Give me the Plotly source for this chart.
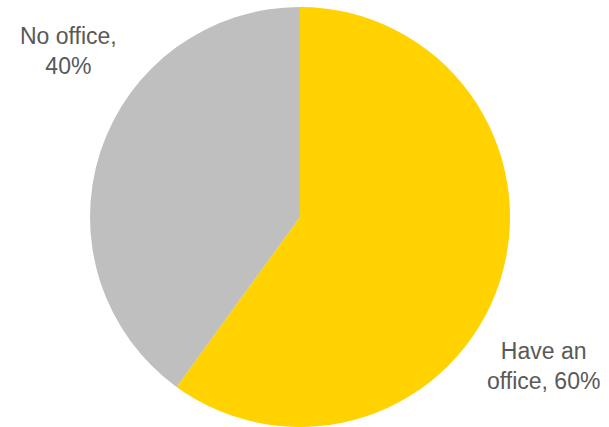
import plotly.graph_objects as go

labels = ["Have an office", "No office"]
values = [60, 40]
colors = ["#FFD200", "#BFBFBF"]
label_text = ["Have an<br>office, 60%", "No office,<br>40%"]

W, H = 609, 427

fig = go.Figure(go.Pie(
    labels=labels,
    values=values,
    sort=False,
    direction="clockwise",
    rotation=0,
    marker=dict(colors=colors, line=dict(width=0)),
    textinfo="none",
    hoverinfo="label+percent",
    domain=dict(x=[90 / W, 510 / W], y=[0, 420 / H]),
    showlegend=False,
))

positions = [(543, 366), (68, 51)]
for txt, (px, py) in zip(label_text, positions):
    fig.add_annotation(
        text=txt, x=px / W, y=1 - py / H, xref="paper", yref="paper",
        xanchor="center", yanchor="middle", showarrow=False, align="center",
        font=dict(family="Liberation Sans, Arial, sans-serif", size=23, color="#595959"),
    )

fig.update_layout(
    width=W, height=H,
    margin=dict(l=0, r=0, t=0, b=0),
    paper_bgcolor="white", plot_bgcolor="white",
)

fig.write_html("out.html", config={"displayModeBar": False},
               post_script="document.body.style.margin='0';")
